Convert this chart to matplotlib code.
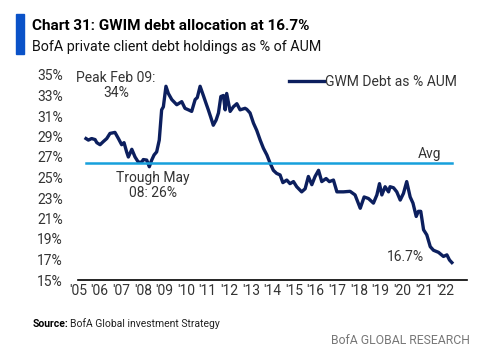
import matplotlib.pyplot as plt
from matplotlib.patches import Rectangle

# GWM debt as % of AUM (decimal years)
years = [2005.37, 2005.48, 2005.63, 2005.79, 2005.87, 2006.02, 2006.17, 2006.33, 2006.48, 2006.71,
         2006.87, 2007.02, 2007.13, 2007.25, 2007.33, 2007.49, 2007.64, 2007.79, 2007.95, 2008.02,
         2008.18, 2008.30, 2008.41, 2008.52, 2008.64, 2008.76, 2008.87, 2008.95, 2009.07, 2009.18,
         2009.34, 2009.57, 2009.80, 2009.95, 2010.11, 2010.26, 2010.42, 2010.52, 2010.65, 2010.80,
         2010.93, 2011.03, 2011.14, 2011.26, 2011.39, 2011.50, 2011.61, 2011.73, 2011.81, 2011.88,
         2012.04, 2012.19, 2012.35, 2012.50, 2012.73, 2012.81, 2012.96, 2013.12, 2013.27, 2013.43,
         2013.58, 2013.74, 2013.89, 2014.04, 2014.19, 2014.35, 2014.48, 2014.66, 2014.81, 2014.97,
         2015.12, 2015.35, 2015.51, 2015.66, 2015.82, 2015.97, 2016.13, 2016.28, 2016.48, 2016.63,
         2016.82, 2016.98, 2017.28, 2017.59, 2017.82, 2018.06, 2018.24, 2018.44, 2018.67, 2018.83,
         2018.95, 2019.06, 2019.21, 2019.37, 2019.44, 2019.60, 2019.75, 2019.91, 2020.06, 2020.21,
         2020.37, 2020.50, 2020.65, 2020.75, 2020.86, 2020.99, 2021.14, 2021.30, 2021.45, 2021.68,
         2021.91, 2022.07, 2022.19, 2022.30]
debt_pct = [28.8, 28.65, 28.8, 28.7, 28.4, 28.2, 28.5, 28.8, 29.3, 29.4,
            28.8, 28.2, 28.4, 27.5, 27.0, 27.75, 27.0, 26.5, 26.5, 26.75,
            26.7, 26.05, 26.7, 27.2, 27.5, 28.65, 31.6, 31.9, 33.9, 33.2,
            32.6, 32.1, 32.4, 31.75, 31.6, 31.45, 32.6, 32.8, 33.9, 33.0,
            32.2, 31.6, 30.9, 30.1, 30.6, 31.3, 32.9, 33.0, 31.6, 33.2,
            31.45, 31.9, 32.2, 31.6, 31.75, 31.65, 31.3, 30.3, 29.6, 28.65,
            27.85, 27.2, 26.4, 25.7, 25.4, 25.25, 24.5, 24.75, 24.4, 24.6,
            24.1, 23.6, 23.9, 25.1, 24.3, 25.1, 25.7, 24.6, 24.9, 24.6,
            24.75, 23.6, 23.6, 23.65, 23.3, 22.0, 23.1, 22.95, 22.5, 23.3,
            24.4, 23.3, 24.1, 23.6, 24.1, 24.0, 23.6, 22.8, 23.45, 24.6,
            23.1, 22.5, 21.2, 21.7, 21.7, 19.9, 19.4, 18.25, 17.9, 17.7,
            17.3, 17.45, 16.95, 16.7]
avg_pct = 26.45
year_labels = ["'05", "'06", "'07", "'08", "'09", "'10", "'11", "'12", "'13",
               "'14", "'15", "'16", "'17", "'18", "'19", "'20", "'21", "'22"]
y_ticks = list(range(15, 36, 2))

navy = '#0c1f5e'
light_blue = '#17a0dc'

plt.rcParams['font.family'] = ['Roboto', 'DejaVu Sans']

fig = plt.figure(figsize=(4.86, 3.56), dpi=100)
ax = fig.add_axes([78 / 486, 76 / 356, 389 / 486, 205 / 356])

ax.plot(years, debt_pct, color=navy, lw=2.4, label='GWM Debt as % AUM', solid_joinstyle='round')
ax.plot([years[0], years[-1]], [avg_pct, avg_pct], color=light_blue, lw=1.8)

ax.set_xlim(2005, 2023)
ax.set_ylim(15, 35)
ax.set_yticks(y_ticks)
ax.set_yticklabels([f'{v}%' for v in y_ticks])
ax.set_xticks(range(2005, 2023))
ax.set_xticklabels(year_labels)
ax.tick_params(length=0, labelsize=10, colors='#333333')
ax.tick_params(axis='y', pad=11)
ax.tick_params(axis='x', pad=3)
for s in ['top', 'right', 'left']:
    ax.spines[s].set_visible(False)
ax.spines['bottom'].set_color('black')
ax.spines['bottom'].set_linewidth(1.2)
ax.patch.set_visible(False)

ax.text(2006.76, 34.0, 'Peak Feb 09:\n34%', ha='center', va='center', fontsize=10,
        color='#333333', linespacing=1.1)
ax.text(2008.47, 24.2, 'Trough May\n08: 26%', ha='center', va='center', fontsize=10,
        color='#333333', linespacing=1.1)
ax.text(2021.25, 26.6, 'Avg', ha='center', va='bottom', fontsize=10, color='#333333')
ax.text(2020.14, 17.25, '16.7%', ha='center', va='center', fontsize=10, color='#333333')

leg = ax.legend(loc='upper right', bbox_to_anchor=(0.975, 1.0), frameon=False, fontsize=10,
                handlelength=2.5, handletextpad=0.1, borderaxespad=0, borderpad=0)
for t in leg.get_texts():
    t.set_color('#333333')

# header
fig.patches.append(Rectangle((16 / 486, 1 - 54 / 356), 8 / 486, 40 / 356,
                             transform=fig.transFigure, color='#0a52c8', zorder=5))
fig.text(32 / 486, 1 - 26 / 356, 'Chart 31: GWIM debt allocation at 16.7%', fontsize=11,
         fontweight='bold', va='center', ha='left', color='black')
fig.text(32 / 486, 1 - 47 / 356, 'BofA private client debt holdings as % of AUM', fontsize=10.3,
         va='center', ha='left', color='#111111')

# footer
fig.text(33 / 486, 1 - 324 / 356, 'Source:', fontsize=7.5, fontweight='bold', va='center', ha='left')
fig.text(70 / 486, 1 - 324 / 356, 'BofA Global investment Strategy', fontsize=7.5, va='center',
         ha='left', color='#222222')
fig.text(470 / 486, 1 - 341 / 356, 'BofA GLOBAL RESEARCH', fontsize=8.8, va='center', ha='right',
         color='#777777')

fig.savefig('out.png', dpi=100)
